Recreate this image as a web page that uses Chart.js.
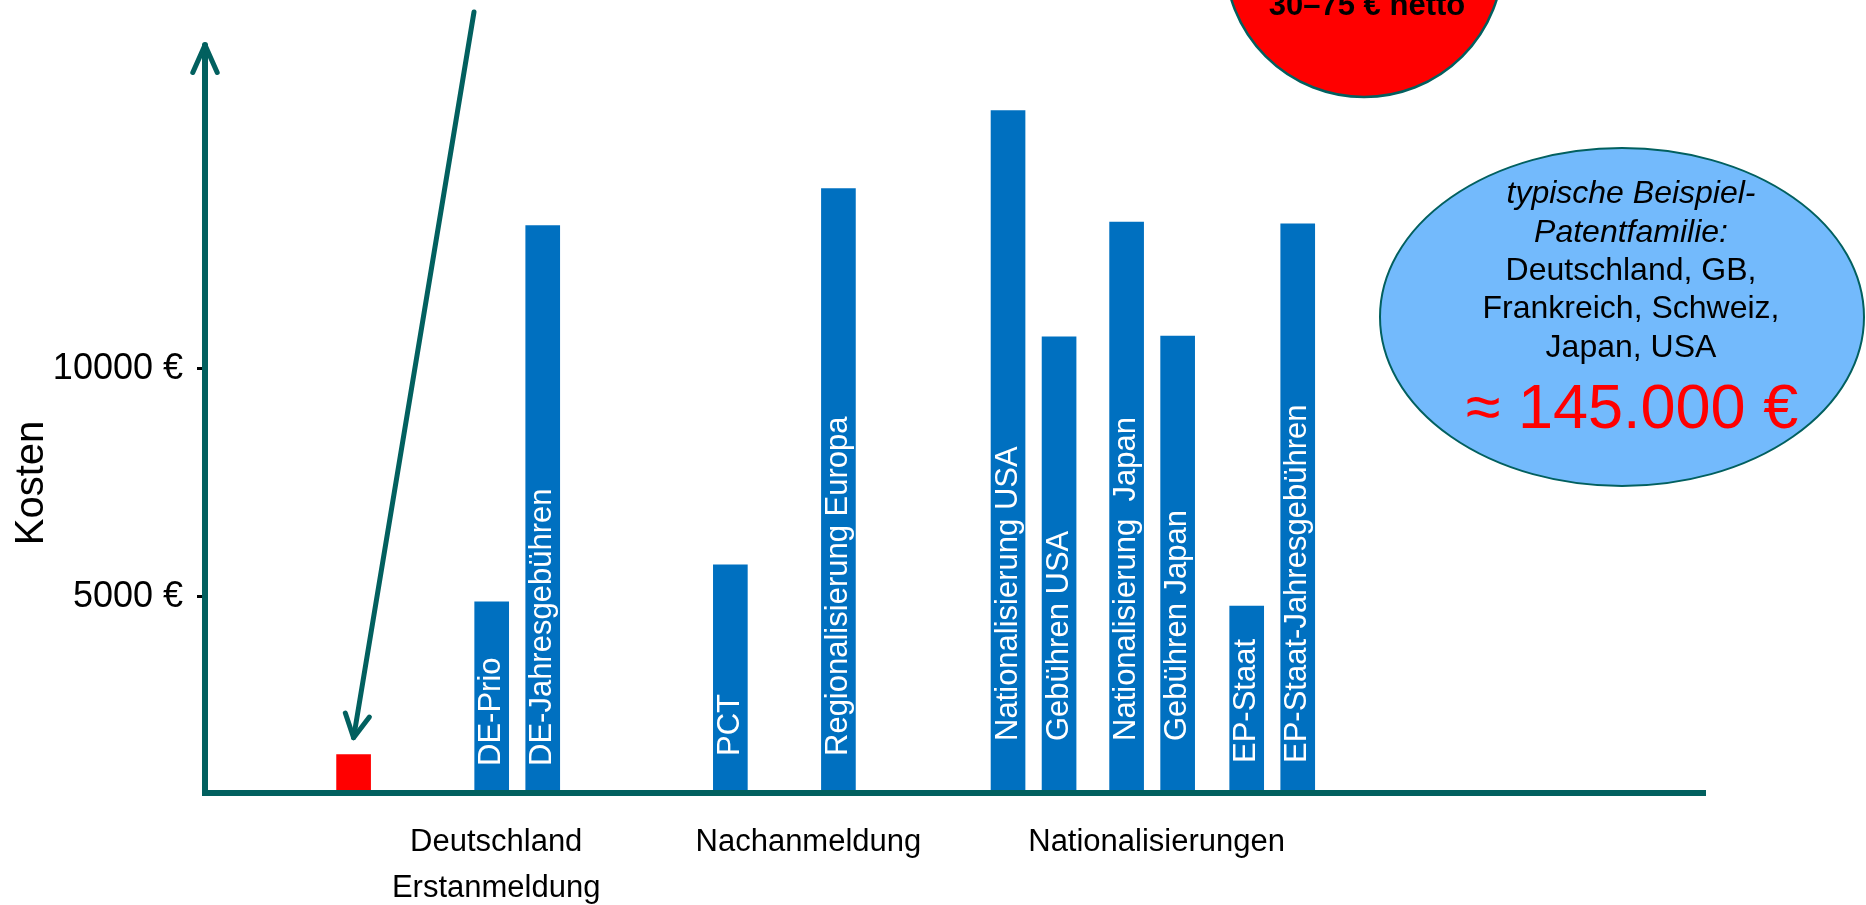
<!DOCTYPE html>
<html>
<head>
<meta charset="utf-8">
<title>Kosten einer Patentfamilie</title>
<script src="https://cdn.jsdelivr.net/npm/chart.js@4.4.1/dist/chart.umd.min.js"></script>
<style>
  html, body { margin: 0; padding: 0; background: #fff; }
  canvas { display: block; }
</style>
</head>
<body>
<canvas id="chart" width="1866" height="905"></canvas>
<script>
// ─────────────────────────────────────
// Kosten einer Patentfamilie – bar chart
// ─────────────────────────────────────

// Bars, left to right (first one = the cheap German first filing)
const barLabels = [
  "",
  "DE-Prio",
  "DE-Jahresgebühren",
  "PCT",
  "Regionalisierung Europa",
  "Nationalisierung USA",
  "Gebühren USA",
  "Nationalisierung  Japan",
  "Gebühren Japan",
  "EP-Staat",
  "EP-Staat-Jahresgebühren",
];
// slot on the time axis (0..100)
const barSlots = [9.9, 19.1, 22.5, 35.0, 42.2, 53.5, 56.9, 61.4, 64.8, 69.4, 72.8];
// cost in €
const barCosts = [1540, 4890, 13140, 5700, 13950, 15660, 10700, 13220, 10720, 4800, 13180];

// Phase labels under the axis
const groupLabels = [["Deutschland", "Erstanmeldung"], "Nachanmeldung", "Nationalisierungen"];
const groupSlots = [19.4, 40.2, 63.4];

// Y ticks
const yTickValues = [5000, 10000];
const yTickLabels = ["5000 €", "10000 €"];

// Callout texts
const feeNote = "30–75 € netto";
const familyLines = ["typische Beispiel-", "Patentfamilie:", "Deutschland, GB,", "Frankreich, Schweiz,", "Japan, USA"];
const familyTotal = "≈ 145.000 €";

// Colors
const BLUE = "#0070C0";
const RED = "#FF0000";
const TEAL = "#02605F";
const LIGHTBLUE = "#73BAFC";
const FONT = "'Liberation Sans', Arial, sans-serif";

Chart.defaults.font.family = FONT;
Chart.defaults.color = "#000";

// how far above the axis each rotated bar label starts (px)
const labelLift = [0, 27, 27, 37, 37, 52, 52, 52, 52, 30, 30];

function arrowHead(ctx, tipX, tipY, fromX, fromY, len, angle) {
  const a = Math.atan2(fromY - tipY, fromX - tipX);
  ctx.beginPath();
  ctx.moveTo(tipX + len * Math.cos(a + angle), tipY + len * Math.sin(a + angle));
  ctx.lineTo(tipX, tipY);
  ctx.lineTo(tipX + len * Math.cos(a - angle), tipY + len * Math.sin(a - angle));
  ctx.stroke();
}

// Draws axes, bar labels, arrow and the two callouts
const decorPlugin = {
  id: "decor",
  afterDatasetsDraw(chart) {
    const ctx = chart.ctx;
    const area = chart.chartArea;
    const bars = chart.getDatasetMeta(0).data;

    // white labels inside the bars
    ctx.save();
    ctx.fillStyle = "#fff";
    ctx.font = "31px " + FONT;
    ctx.textAlign = "left";
    ctx.textBaseline = "middle";
    bars.forEach(function (bar, i) {
      if (!barLabels[i]) return;
      ctx.save();
      ctx.translate(bar.x, area.bottom - labelLift[i]);
      ctx.rotate(-Math.PI / 2);
      ctx.fillText(barLabels[i], 0, 0);
      ctx.restore();
    });
    ctx.restore();

    // axes
    ctx.save();
    ctx.strokeStyle = TEAL;
    ctx.lineWidth = 6;
    ctx.lineCap = "butt";
    ctx.beginPath();
    ctx.moveTo(area.left - 3, area.bottom);
    ctx.lineTo(area.right, area.bottom);
    ctx.stroke();
    ctx.lineCap = "round";
    ctx.lineJoin = "round";
    ctx.beginPath();
    ctx.moveTo(area.left, area.bottom);
    ctx.lineTo(area.left, area.top);
    ctx.stroke();
    ctx.lineWidth = 5;
    arrowHead(ctx, area.left, area.top, area.left, area.bottom, 30, 24 * Math.PI / 180);

    // arrow pointing at the first filing bar
    const first = bars[0];
    const tipX = first.x;
    const tipY = first.y - 17;
    ctx.beginPath();
    ctx.moveTo(474, 12);
    ctx.lineTo(tipX, tipY);
    ctx.stroke();
    arrowHead(ctx, tipX, tipY, 474, 12, 26, 28 * Math.PI / 180);
    ctx.restore();
  },
  afterDraw(chart) {
    const ctx = chart.ctx;
    ctx.save();

    // y axis title
    ctx.save();
    ctx.translate(43, 483);
    ctx.rotate(-Math.PI / 2);
    ctx.font = "40px " + FONT;
    ctx.fillStyle = "#000";
    ctx.textAlign = "center";
    ctx.textBaseline = "alphabetic";
    ctx.fillText("Kosten", 0, 0);
    ctx.restore();

    // red circle (cut off at the top)
    ctx.beginPath();
    ctx.arc(1364, -42, 139, 0, 2 * Math.PI);
    ctx.fillStyle = RED;
    ctx.fill();
    ctx.lineWidth = 2.5;
    ctx.strokeStyle = TEAL;
    ctx.stroke();
    ctx.fillStyle = "#000";
    ctx.font = "bold 31px " + FONT;
    ctx.textAlign = "center";
    ctx.textBaseline = "alphabetic";
    ctx.fillText(feeNote, 1367, 15);

    // blue ellipse
    ctx.beginPath();
    ctx.ellipse(1622, 317, 242, 169, 0, 0, 2 * Math.PI);
    ctx.fillStyle = LIGHTBLUE;
    ctx.fill();
    ctx.lineWidth = 2;
    ctx.strokeStyle = TEAL;
    ctx.stroke();

    ctx.fillStyle = "#000";
    const baselines = [203, 242, 280, 318, 357];
    familyLines.forEach(function (line, i) {
      ctx.font = (i < 2 ? "italic " : "") + "32px " + FONT;
      ctx.fillText(line, 1631, baselines[i]);
    });
    ctx.fillStyle = RED;
    ctx.font = "63px " + FONT;
    ctx.fillText(familyTotal, 1632, 428);

    ctx.restore();
  },
};

new Chart(document.getElementById("chart"), {
  type: "bar",
  data: {
    datasets: [
      {
        data: barSlots.map(function (x, i) { return { x: x, y: barCosts[i] }; }),
        backgroundColor: barCosts.map(function (_, i) { return i === 0 ? RED : BLUE; }),
        borderWidth: 0,
        barThickness: 34,
      },
    ],
  },
  options: {
    responsive: false,
    animation: false,
    devicePixelRatio: 1,
    layout: { padding: { top: 45, right: 160, bottom: 0, left: 0 } },
    plugins: {
      legend: { display: false },
      tooltip: { enabled: false },
    },
    scales: {
      x: {
        type: "linear",
        min: 0,
        max: 100,
        offset: false,
        grid: { display: false, drawTicks: false },
        border: { display: false },
        afterBuildTicks: function (axis) {
          axis.ticks = groupSlots.map(function (v) { return { value: v }; });
        },
        afterFit: function (axis) { axis.height = 112; },
        ticks: {
          autoSkip: false,
          maxRotation: 0,
          padding: 26,
          color: "#000",
          font: { size: 31, lineHeight: 1.5 },
          callback: function (v, i) { return groupLabels[i]; },
        },
      },
      y: {
        min: 700,
        max: 17100,
        grid: { drawOnChartArea: false, drawTicks: true, tickLength: 8, color: "#000", lineWidth: 3 },
        border: { display: false },
        afterBuildTicks: function (axis) {
          axis.ticks = yTickValues.map(function (v) { return { value: v }; });
        },
        afterFit: function (axis) { axis.width = 205; },
        ticks: {
          padding: 14,
          color: "#000",
          font: { size: 36 },
          callback: function (v, i) { return yTickLabels[i]; },
        },
      },
    },
  },
  plugins: [decorPlugin],
});
</script>
</body>
</html>
